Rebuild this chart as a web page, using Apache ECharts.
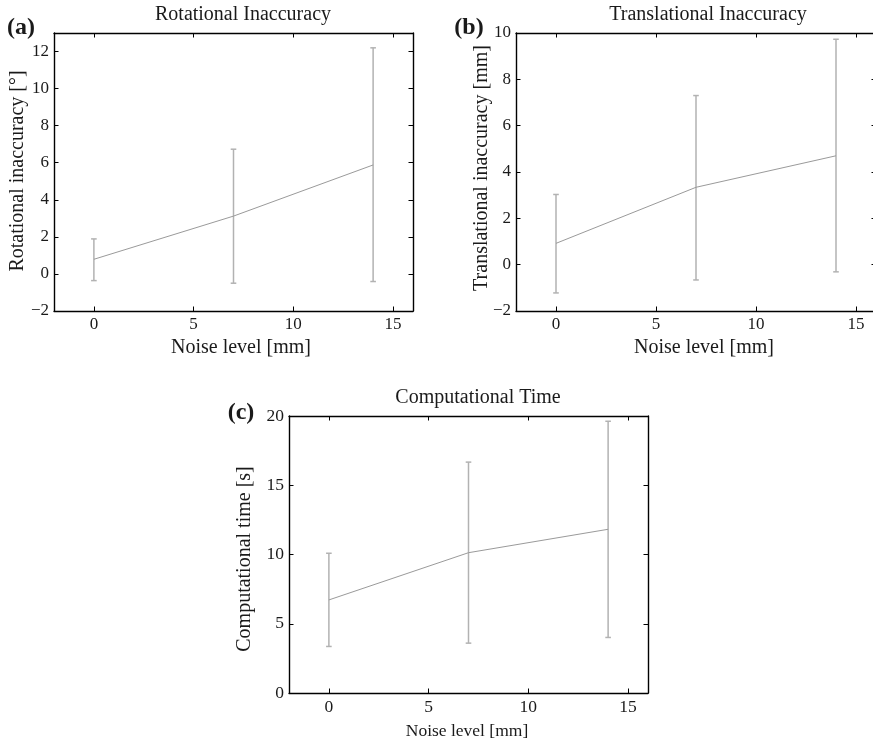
<!DOCTYPE html>
<html>
<head>
<meta charset="utf-8">
<script src="https://cdn.jsdelivr.net/npm/echarts@6/dist/echarts.min.js"></script>
<style>
  html, body { margin: 0; padding: 0; background: #fff; }
  #main { width: 873px; height: 743px; }
</style>
</head>
<body>
<div id="main"></div>
<script>
// noise levels (x) and tick values
const noiseLevels = [0, 7, 14];
const xTicks = [0, 5, 10, 15];

// (a) rotational inaccuracy [deg]
const rotMean = [0.79, 3.12, 5.88];
const rotLow = [-0.36, -0.5, -0.41];
const rotHigh = [1.89, 6.73, 12.2];
const rotYTicks = [-2, 0, 2, 4, 6, 8, 10, 12];

// (b) translational inaccuracy [mm]
const transMean = [0.92, 3.34, 4.7];
const transLow = [-1.22, -0.66, -0.31];
const transHigh = [3.03, 7.3, 9.73];
const transYTicks = [-2, 0, 2, 4, 6, 8, 10];

// (c) computational time [s]
const timeMean = [6.72, 10.13, 11.82];
const timeLow = [3.36, 3.6, 4.01];
const timeHigh = [10.09, 16.67, 19.62];
const timeYTicks = [0, 5, 10, 15, 20];

const FONT = 'Liberation Serif';
const INK = '#1a1a1a';
const minus = v => String(v).replace('-', '\u2212');

const chart = echarts.init(document.getElementById('main'));

const panels = [
  { grid: { left: 54, top: 33, width: 359, height: 278 }, yMin: -2, yMax: 13,
    yTicks: rotYTicks, mean: rotMean, low: rotLow, high: rotHigh, tickSize: 17 },
  { grid: { left: 516, top: 33, width: 360, height: 278 }, yMin: -2, yMax: 10,
    yTicks: transYTicks, mean: transMean, low: transLow, high: transHigh, tickSize: 17 },
  { grid: { left: 289, top: 416, width: 359, height: 277 }, yMin: 0, yMax: 20,
    yTicks: timeYTicks, mean: timeMean, low: timeLow, high: timeHigh, tickSize: 17.5 }
];

const grid = [], xAxis = [], yAxis = [], series = [];

panels.forEach((p, i) => {
  // panel (b) runs past the right edge of the page, so no clamping to the container
  grid.push(Object.assign({ containLabel: false, outerBoundsMode: 'none' }, p.grid));
  const line = { show: true, onZero: false, lineStyle: { color: '#000', width: 1.4 } };
  const lab = (vals, show) => ({
    show: show, customValues: vals, margin: 5, color: INK,
    fontFamily: FONT, fontSize: p.tickSize, formatter: v => minus(v)
  });
  const tick = vals => ({ show: true, inside: true, length: 4.5, customValues: vals,
    lineStyle: { color: '#000', width: 1 } });

  ['bottom', 'top'].forEach(pos => xAxis.push({
    type: 'value', gridIndex: i, position: pos, min: -2, max: 16,
    axisLine: line, axisTick: tick(xTicks), axisLabel: lab(xTicks, pos === 'bottom'),
    splitLine: { show: false }
  }));
  ['left', 'right'].forEach(pos => yAxis.push({
    type: 'value', gridIndex: i, position: pos, min: p.yMin, max: p.yMax,
    axisLine: line, axisTick: tick(p.yTicks), axisLabel: lab(p.yTicks, pos === 'left'),
    splitLine: { show: false }
  }));

  series.push({
    type: 'custom', xAxisIndex: 2 * i, yAxisIndex: 2 * i,
    encode: { x: 0, y: [1, 2] },
    data: noiseLevels.map((x, k) => [x, p.low[k], p.high[k]]),
    renderItem: (params, api) => {
      const x = api.value(0);
      const lo = api.coord([x, api.value(1)]);
      const hi = api.coord([x, api.value(2)]);
      const cap = 2.8;
      const style = { stroke: '#b2b2b2', lineWidth: 1.5 };
      return { type: 'group', children: [
        { type: 'line', shape: { x1: lo[0], y1: lo[1], x2: hi[0], y2: hi[1] }, style },
        { type: 'line', shape: { x1: lo[0] - cap, y1: lo[1], x2: lo[0] + cap, y2: lo[1] }, style },
        { type: 'line', shape: { x1: hi[0] - cap, y1: hi[1], x2: hi[0] + cap, y2: hi[1] }, style }
      ] };
    }
  });
  series.push({
    type: 'line', xAxisIndex: 2 * i, yAxisIndex: 2 * i,
    data: noiseLevels.map((x, k) => [x, p.mean[k]]),
    symbol: 'none', lineStyle: { color: '#9a9a9a', width: 1 }, z: 3
  });
});

// texts: titles, panel letters, axis names
const txt = (text, x, y, size, opts) => Object.assign({
  type: 'text', x: x, y: y,
  style: { text: text, fill: INK, font: size + 'px "' + FONT + '"', align: 'center', verticalAlign: 'middle' }
}, opts || {});
const bold = (text, x, y) => {
  const t = txt(text, x, y, 24);
  t.style.font = 'bold 24px "' + FONT + '"';
  return t;
};
const vert = (text, x, y, size) => txt(text, x, y, size, { rotation: Math.PI / 2 });

const graphic = [
  txt('Rotational Inaccuracy', 243, 15, 20),
  txt('Translational Inaccuracy', 708, 15, 20),
  txt('Computational Time', 478, 398, 20),
  bold('(a)', 21, 28),
  bold('(b)', 469, 28),
  bold('(c)', 241, 413),
  txt('Noise level [mm]', 241, 348, 20),
  txt('Noise level [mm]', 704, 348, 20),
  txt('Noise level [mm]', 467, 731, 17.5),
  vert('Rotational inaccuracy [°]', 18, 171, 20),
  vert('Translational inaccuracy [mm]', 482, 168, 20),
  vert('Computational time [s]', 245, 559, 20)
];

chart.setOption({
  animation: false,
  backgroundColor: '#fff',
  grid, xAxis, yAxis, series, graphic
});
</script>
</body>
</html>
